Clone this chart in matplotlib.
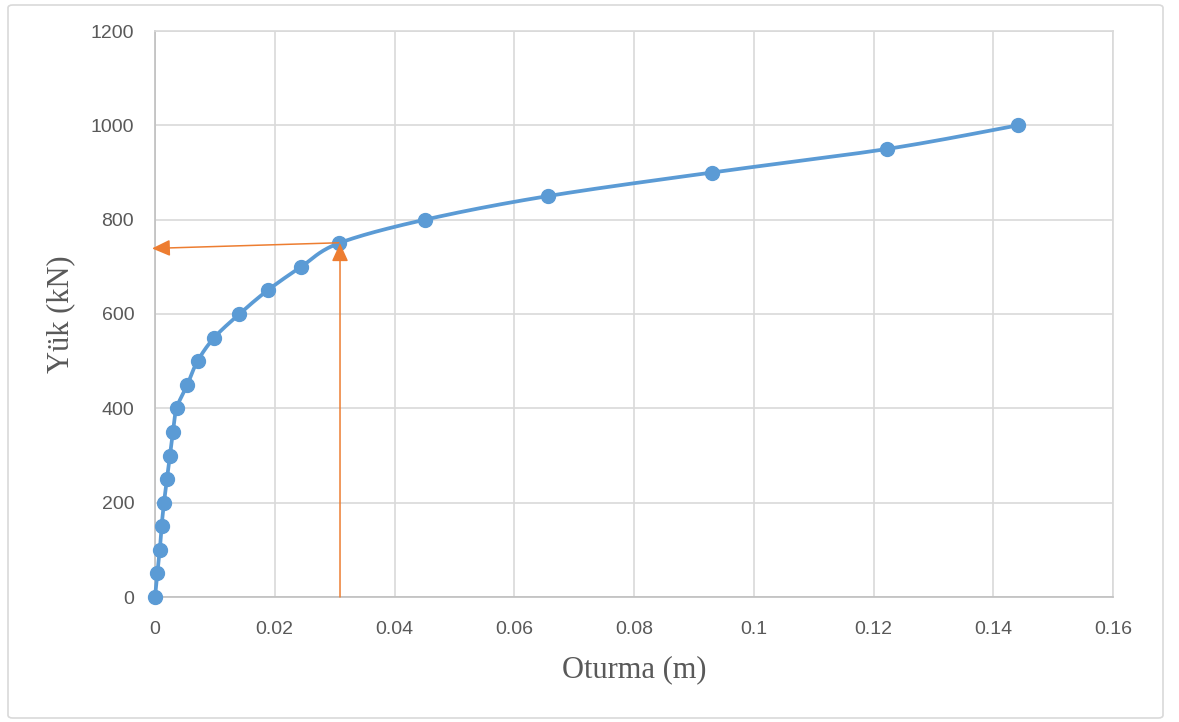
import numpy as np
import matplotlib
matplotlib.use("Agg")
import matplotlib.pyplot as plt
from matplotlib.patches import FancyBboxPatch

# load (kN) vs settlement (m)
yuk = [0, 50, 100, 150, 200, 250, 300, 350, 400, 450, 500,
       550, 600, 650, 700, 750, 800, 850, 900, 950, 1000]
oturma = [0.0, 0.0004, 0.0008, 0.0011, 0.0015, 0.002, 0.0025, 0.003, 0.0036,
          0.0054, 0.0071, 0.0099, 0.0141, 0.0188, 0.0244, 0.0307,
          0.0451, 0.0656, 0.093, 0.1223, 0.1441]

# arrows marking the read-off point
ok_dusey = (0.0309, 0, 750)          # x, y start, y end
ok_yatay = (0.0307, 751, -0.0005, 739)  # x0, y0, x1, y1


def smooth(xs, ys, n=30):
    # catmull-rom, like excel's smoothed line
    p = np.column_stack([xs, ys]).astype(float)
    p = np.vstack([p[0], p, p[-1]])
    out = []
    t = np.linspace(0, 1, n)[:, None]
    for i in range(1, len(p) - 2):
        p0, p1, p2, p3 = p[i - 1], p[i], p[i + 1], p[i + 2]
        seg = 0.5 * ((2 * p1) + (-p0 + p2) * t + (2 * p0 - 5 * p1 + 4 * p2 - p3) * t ** 2
                     + (-p0 + 3 * p1 - 3 * p2 + p3) * t ** 3)
        out.append(seg)
    out = np.vstack(out)
    return out[:, 0], out[:, 1]


fig = plt.figure(figsize=(11.79, 7.22), dpi=100)
fig.patches.append(FancyBboxPatch((8 / 1179, 4 / 722), 1155 / 1179, 713 / 722,
                                  boxstyle="round,pad=0,rounding_size=0.004",
                                  transform=fig.transFigure, fill=False,
                                  edgecolor="#d9d9d9", linewidth=1.2))
ax = fig.add_axes([155 / 1179, 1 - 597 / 722, 958 / 1179, 566 / 722])

sx, sy = smooth(oturma, yuk)
ax.plot(sx, sy, color="#5B9BD5", linewidth=2.7, zorder=3, clip_on=False)
ax.plot(oturma, yuk, "o", color="#5B9BD5", markersize=10, zorder=4, clip_on=False)

orange = "#ED7D31"
head = "-|>,head_length=1.1,head_width=0.5"
ax.annotate("", xy=(ok_dusey[0], ok_dusey[2]), xytext=(ok_dusey[0], ok_dusey[1]),
            arrowprops=dict(arrowstyle=head, color=orange, lw=1.1, shrinkA=0, shrinkB=0),
            zorder=5, annotation_clip=False)
ax.annotate("", xy=(ok_yatay[2], ok_yatay[3]), xytext=(ok_yatay[0], ok_yatay[1]),
            arrowprops=dict(arrowstyle=head, color=orange, lw=1.1, shrinkA=0, shrinkB=0),
            zorder=5, annotation_clip=False)

ax.set_xlim(0, 0.16)
ax.set_ylim(0, 1200)
ax.set_xticks([0, 0.02, 0.04, 0.06, 0.08, 0.1, 0.12, 0.14, 0.16])
ax.set_xticklabels(["0", "0.02", "0.04", "0.06", "0.08", "0.1", "0.12", "0.14", "0.16"])
ax.set_yticks(range(0, 1201, 200))
ax.grid(True, color="#d9d9d9", linewidth=1.2)
ax.set_axisbelow(True)
for s in ax.spines.values():
    s.set_color("#d9d9d9")
    s.set_linewidth(1.2)
ax.spines["left"].set_color("#bfbfbf")
ax.spines["bottom"].set_color("#bfbfbf")
ax.tick_params(length=0, labelsize=14, labelcolor="#595959")
ax.tick_params(axis="x", pad=17)
ax.tick_params(axis="y", pad=15)
for lab in ax.get_xticklabels() + ax.get_yticklabels():
    lab.set_family("Liberation Sans")

ax.set_xlabel("Oturma (m)", family="Liberation Serif", fontsize=22, color="#595959", labelpad=13)
ax.set_ylabel("Yük (kN)", family="Liberation Serif", fontsize=22, color="#595959", labelpad=11)

fig.savefig("out.png", dpi=100)
